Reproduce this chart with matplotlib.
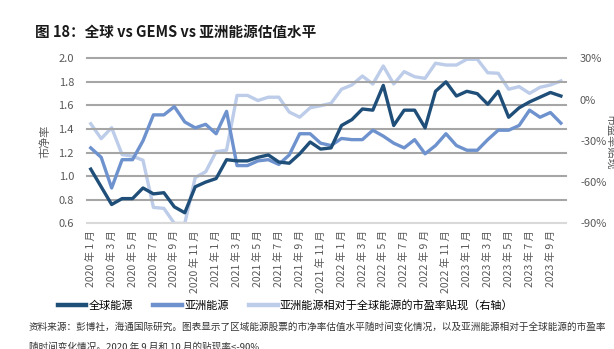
import numpy as np
import matplotlib
matplotlib.use("Agg")
import matplotlib.pyplot as plt
from matplotlib.lines import Line2D
from matplotlib.ticker import FuncFormatter

plt.rcParams['font.family'] = ['Noto Sans CJK SC', 'DejaVu Sans']

# monthly data, Jan 2020 - Oct 2023
months = [f"{2020 + k // 12} 年 {k % 12 + 1} 月" for k in range(46)]

global_pb = [1.06, 0.91, 0.76, 0.81, 0.81, 0.90, 0.85, 0.86, 0.74, 0.69,
             0.91, 0.95, 0.98, 1.14, 1.13, 1.13, 1.16, 1.18, 1.12, 1.11,
             1.19, 1.29, 1.23, 1.24, 1.43, 1.48, 1.57, 1.56, 1.77, 1.43,
             1.56, 1.56, 1.41, 1.72, 1.80, 1.68, 1.72, 1.70, 1.61, 1.72,
             1.50, 1.58, 1.63, 1.67, 1.71, 1.68]

asia_pb = [1.24, 1.16, 0.90, 1.14, 1.14, 1.30, 1.52, 1.52, 1.59, 1.46,
           1.41, 1.44, 1.36, 1.55, 1.09, 1.09, 1.13, 1.14, 1.10, 1.18,
           1.36, 1.36, 1.28, 1.26, 1.32, 1.31, 1.31, 1.39, 1.34, 1.28,
           1.24, 1.31, 1.19, 1.26, 1.36, 1.26, 1.22, 1.22, 1.31, 1.39,
           1.39, 1.43, 1.56, 1.50, 1.54, 1.45]

# Asia vs global P/E discount, % (Sep/Oct 2020 below -90%)
asia_discount = [-17.6, -28.4, -20.5, -40.0, -41.2, -44.1, -78.4, -79.1, -90.0, -90.0,
                 -56.7, -52.5, -37.9, -36.8, 3.0, 3.0, -0.7, 1.7, 1.7, -9.1,
                 -12.8, -6.0, -4.5, -2.7, 7.5, 10.6, 17.1, 11.3, 24.4, 11.3,
                 20.3, 16.6, 15.4, 26.4, 25.1, 25.1, 29.3, 29.3, 19.5, 19.1,
                 7.5, 9.4, 4.5, 8.9, 10.6, 13.5]

DARK = '#1f4e79'
MID = '#6e92cd'
LIGHT = '#bccce9'
GRID = '#a6a6a6'
TXT = '#595959'

fig = plt.figure(figsize=(6.14, 3.49), dpi=100)
ax = fig.add_axes([0.141, 0.360, 0.781, 0.473])
ax2 = ax.twinx()
ax.set_zorder(ax2.get_zorder() + 1)
ax.patch.set_visible(False)

x = np.arange(len(months))
ax2.plot(x, asia_discount, color=LIGHT, lw=2.4)
ax.plot(x, asia_pb, color=MID, lw=2.4)
ax.plot(x, global_pb, color=DARK, lw=2.4)

ax.set_xlim(-0.4, len(months) - 0.5)
ax.set_ylim(0.6, 2.0)
ax.set_yticks(np.arange(0.6, 2.01, 0.2))
ax.yaxis.set_major_formatter(FuncFormatter(lambda v, p: f"{v:.1f}"))
ax2.set_ylim(-90, 30)
ax2.set_yticks([-90, -60, -30, 0, 30])
ax2.yaxis.set_major_formatter(FuncFormatter(lambda v, p: f"{v:.0f}%"))

ax.set_xticks(x[::2])
ax.set_xticklabels(months[::2], rotation=90, fontsize=7.5, color=TXT)

ax.grid(axis='y', color=GRID, lw=1.5)
ax.set_axisbelow(True)
for gl in ax.get_ygridlines():
    gl.set_clip_on(False)
ax.get_ygridlines()[0].set_color('#d9d9d9')

for a in (ax, ax2):
    for s in a.spines.values():
        s.set_visible(False)
ax.tick_params(axis='x', length=0, pad=5)
ax.tick_params(axis='y', length=0, pad=9, labelsize=8, labelcolor=TXT)
ax2.tick_params(axis='y', length=0, pad=10, labelsize=8, labelcolor=TXT)

ax.set_ylabel('市净率', fontsize=8, color=TXT, labelpad=6)
fig.text(0.995, 0.593, '市盈率贴现', rotation=-90, fontsize=8, color=TXT,
         ha='center', va='center')

fig.text(0.057, 0.895, '图 18：全球 vs GEMS vs 亚洲能源估值水平',
         fontsize=10.5, fontweight='bold', color='#1a1a1a')

# legend keys drawn a bit heavier than the data lines
handles = [Line2D([], [], color=c, lw=3.2) for c in (DARK, MID, LIGHT)]
labels = ['全球能源', '亚洲能源', '亚洲能源相对于全球能源的市盈率贴现（右轴）']
fig.legend(handles, labels, loc='center', bbox_to_anchor=(0.465, 0.126),
           ncol=3, frameon=False, fontsize=8, handlelength=2.6,
           handletextpad=0.2, columnspacing=1.8)

fig.text(0.047, 0.062,
         '资料来源：彭博社，海通国际研究。图表显示了区域能源股票的市净率估值水平随时间变化情况，以及亚洲能源相对于全球能源的市盈率',
         fontsize=6.9, color='#333333', va='center')
fig.text(0.047, 0.005, '随时间变化情况。2020 年 9 月和 10 月的贴现率<-90%',
         fontsize=6.9, color='#333333', va='center')

fig.savefig('out.png', dpi=100)
